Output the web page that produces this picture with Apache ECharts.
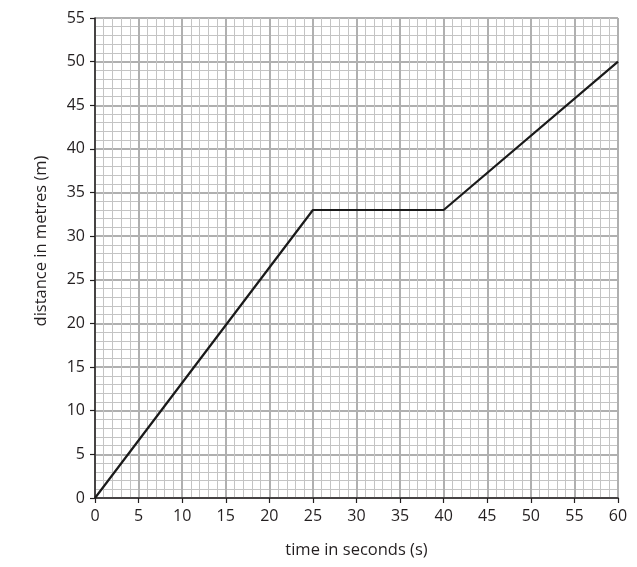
<!DOCTYPE html>
<html><head><meta charset="utf-8">
<script src="https://cdn.jsdelivr.net/npm/echarts@6/dist/echarts.min.js"></script>
<style>html,body{margin:0;padding:0;background:#fff}#c{width:637px;height:567px}</style>
</head><body><div id="c"></div>
<script>
const timeSeconds = [0, 25, 40, 60];
const distanceMetres = [0, 33, 33, 50];
const xTicks = [0, 5, 10, 15, 20, 25, 30, 35, 40, 45, 50, 55, 60];
const yTicks = [0, 5, 10, 15, 20, 25, 30, 35, 40, 45, 50, 55];

const chart = echarts.init(document.getElementById('c'));
const font = '"Open Sans", "Noto Sans", sans-serif';
const ink = '#231f20';
chart.setOption({
  animation: false,
  grid: { left: 95, right: 19, top: 18, bottom: 69, containLabel: false },
  xAxis: {
    type: 'value', min: xTicks[0], max: xTicks[xTicks.length - 1], interval: 5,
    name: 'time in seconds (s)', nameLocation: 'middle', nameGap: 44,
    nameTextStyle: { fontFamily: font, fontSize: 16.5, color: ink },
    axisLine: { show: true, lineStyle: { color: ink, width: 1.5 } },
    axisTick: { show: true, length: 5, lineStyle: { color: ink, width: 1.2 } },
    axisLabel: { fontFamily: font, fontSize: 16, color: ink, margin: 10 },
    splitLine: { show: true, lineStyle: { color: '#b0b0b0', width: 2 } },
    minorTick: { show: false, splitNumber: 5 },
    minorSplitLine: { show: true, lineStyle: { color: '#c4c4c4', width: 1 } }
  },
  yAxis: {
    type: 'value', min: yTicks[0], max: yTicks[yTicks.length - 1], interval: 5,
    name: 'distance in metres (m)', nameLocation: 'middle', nameGap: 45, nameRotate: 90,
    nameTextStyle: { fontFamily: font, fontSize: 16.5, color: ink, padding: [0, 0, 0, 34] },
    axisLine: { show: true, lineStyle: { color: ink, width: 1.5 } },
    axisTick: { show: true, length: 5, lineStyle: { color: ink, width: 1.2 } },
    axisLabel: { fontFamily: font, fontSize: 16, color: ink, margin: 10 },
    splitLine: { show: true, lineStyle: { color: '#b0b0b0', width: 2 } },
    minorTick: { show: false, splitNumber: 5 },
    minorSplitLine: { show: true, lineStyle: { color: '#c4c4c4', width: 1 } }
  },
  series: [{
    type: 'line',
    data: timeSeconds.map((t, i) => [t, distanceMetres[i]]),
    showSymbol: false,
    lineStyle: { color: '#1a1a1a', width: 2.2 },
    z: 5
  }]
});
</script></body></html>
